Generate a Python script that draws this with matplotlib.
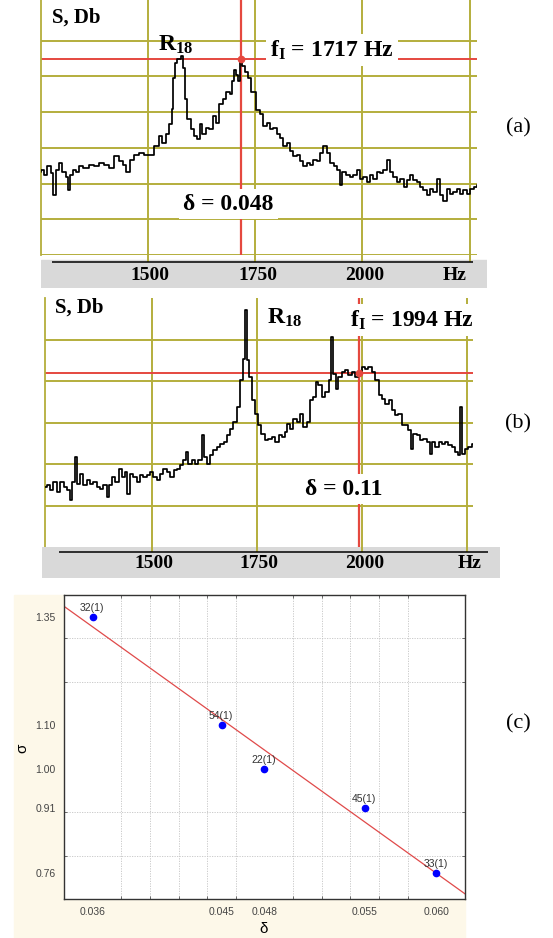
import numpy as np
import matplotlib
matplotlib.use("Agg")
import matplotlib.pyplot as plt
from matplotlib.patches import Rectangle

plt.rcParams['font.family'] = ['Liberation Serif', 'DejaVu Serif']
plt.rcParams['mathtext.fontset'] = 'custom'
plt.rcParams['mathtext.rm'] = 'Liberation Serif'
plt.rcParams['mathtext.bf'] = 'Liberation Serif:bold'

W, H = 553, 938
OLIVE = '#b4ae3c'
RED = '#e5483f'
GRAY = '#d9d9d9'
BEIGE = '#fdf8e9'

# ---- (a) spectrum, delta = 0.048 (level in grid units) ----
freq_a = [1250, 1255, 1263, 1271, 1278, 1282, 1290, 1298, 1306, 1314,
          1316, 1322, 1330, 1337, 1345, 1357, 1369, 1381, 1392, 1404,
          1416, 1428, 1440, 1447, 1455, 1463, 1475, 1487, 1499, 1510,
          1522, 1530, 1538, 1546, 1554, 1559, 1561, 1565, 1573, 1581,
          1585, 1589, 1597, 1605, 1612, 1620, 1624, 1632, 1640, 1648,
          1656, 1664, 1671, 1679, 1687, 1695, 1699, 1703, 1709, 1713,
          1717, 1723, 1730, 1738, 1746, 1758, 1766, 1774, 1781, 1789,
          1797, 1805, 1812, 1820, 1828, 1836, 1843, 1851, 1859, 1867,
          1874, 1882, 1890, 1898, 1905, 1913, 1921, 1929, 1937, 1944,
          1951, 1956, 1968, 1975, 1983, 1991, 1999, 2006, 2014, 2022,
          2030, 2037, 2045, 2053, 2061, 2069, 2076, 2084, 2092, 2100,
          2107, 2115, 2123, 2131, 2138, 2146, 2154, 2162, 2169, 2177,
          2185, 2193, 2200, 2208, 2216, 2224, 2232, 2239, 2247, 2255,
          2263, 2270]
level_a = [2.33, 2.38, 2.24, 2.48, 2.29, 1.67, 2.38, 2.57, 2.33, 2.19,
           1.81, 2.24, 2.38, 2.33, 2.48, 2.43, 2.52, 2.48, 2.57, 2.52,
           2.43, 2.76, 2.62, 2.52, 2.33, 2.67, 2.81, 2.86, 2.81, 2.81,
           3.05, 3.33, 3.14, 3.38, 3.67, 4.10, 4.95, 5.38, 5.48, 5.57,
           5.24, 4.38, 3.81, 3.52, 3.33, 3.24, 3.67, 3.38, 3.57, 3.52,
           3.90, 3.71, 4.24, 4.38, 4.57, 4.52, 4.86, 5.19, 5.05, 4.86,
           5.48, 5.30, 5.14, 4.95, 4.57, 4.05, 3.95, 3.62, 3.71, 3.52,
           3.57, 3.38, 3.29, 3.05, 3.14, 2.90, 2.76, 2.81, 2.62, 2.48,
           2.57, 2.52, 2.67, 2.62, 2.86, 3.05, 2.86, 2.57, 2.48, 2.38,
           1.95, 2.33, 2.24, 2.19, 2.24, 2.38, 2.14, 2.19, 2.05, 2.24,
           2.14, 2.33, 2.29, 2.38, 2.67, 2.33, 2.19, 2.05, 2.14, 1.90,
           2.10, 2.24, 2.10, 2.05, 1.90, 1.81, 1.67, 1.86, 1.76, 2.14,
           1.67, 1.52, 1.86, 1.71, 1.76, 1.86, 1.71, 1.81, 1.71, 1.86,
           1.90, 1.95]

# ---- (b) spectrum, delta = 0.11 ----
freq_b = [1246, 1254, 1262, 1270, 1278, 1286, 1294, 1301, 1309, 1313,
          1320, 1325, 1333, 1341, 1349, 1357, 1365, 1373, 1381, 1389,
          1397, 1401, 1409, 1417, 1425, 1433, 1440, 1444, 1452, 1460,
          1468, 1476, 1484, 1492, 1500, 1508, 1516, 1524, 1532, 1540,
          1548, 1556, 1564, 1571, 1579, 1583, 1591, 1599, 1607, 1615,
          1623, 1627, 1635, 1643, 1651, 1659, 1667, 1675, 1683, 1691,
          1698, 1706, 1714, 1720, 1725, 1730, 1734, 1742, 1750, 1756,
          1766, 1774, 1782, 1790, 1798, 1806, 1813, 1821, 1825, 1833,
          1841, 1849, 1857, 1865, 1873, 1881, 1889, 1893, 1901, 1909,
          1917, 1925, 1930, 1935, 1941, 1948, 1956, 1964, 1972, 1980,
          1988, 1996, 2004, 2012, 2020, 2028, 2036, 2044, 2052, 2060,
          2068, 2076, 2083, 2091, 2099, 2107, 2115, 2119, 2127, 2135,
          2143, 2151, 2159, 2164, 2171, 2179, 2187, 2195, 2203, 2210,
          2218, 2226, 2232, 2237, 2242, 2250, 2258, 2266]
level_b = [1.46, 1.50, 1.38, 1.58, 1.34, 1.58, 1.46, 1.38, 1.14, 1.58,
           2.18, 1.54, 1.78, 1.50, 1.62, 1.54, 1.58, 1.46, 1.42, 1.50,
           1.22, 1.50, 1.70, 1.58, 1.90, 1.70, 1.82, 1.30, 1.78, 1.70,
           1.58, 1.74, 1.70, 1.74, 1.82, 1.70, 1.62, 1.78, 1.90, 1.82,
           1.70, 1.86, 1.90, 1.98, 2.10, 2.30, 2.02, 2.10, 2.02, 2.10,
           2.70, 2.18, 2.02, 2.22, 2.34, 2.42, 2.50, 2.54, 2.70, 2.86,
           3.02, 3.38, 4.02, 4.54, 5.70, 4.50, 4.10, 3.54, 3.22, 2.94,
           2.74, 2.58, 2.62, 2.66, 2.54, 2.70, 2.66, 2.78, 2.98, 2.86,
           3.10, 3.02, 3.22, 2.90, 3.02, 3.54, 3.62, 3.98, 3.90, 3.62,
           3.74, 4.02, 5.06, 4.18, 3.82, 4.10, 4.22, 4.26, 4.14, 4.22,
           4.10, 4.22, 4.34, 4.30, 4.34, 4.22, 4.02, 3.66, 3.58, 3.46,
           3.54, 3.30, 3.18, 3.22, 2.94, 2.94, 2.82, 2.38, 2.74, 2.70,
           2.58, 2.62, 2.54, 2.26, 2.54, 2.42, 2.54, 2.50, 2.54, 2.46,
           2.42, 2.30, 2.22, 3.38, 2.26, 2.38, 2.42, 2.50]

f_res_a, lev_res_a, delta_a = 1717, 5.48, '0.048'
f_res_b, lev_res_b, delta_b = 1994, 4.20, '0.11'
hz_ticks = [1500, 1750, 2000]
grid_hz = [1500, 1750, 2000, 2250]

# ---- (c) sigma vs delta ----
delta_c = [0.036, 0.045, 0.048, 0.055, 0.060]
sigma_c = [1.35, 1.10, 1.00, 0.91, 0.76]
point_labels = ['32(1)', '54(1)', '22(1)', '45(1)', '33(1)']
x_ticks_c = [0.036, 0.045, 0.048, 0.055, 0.060]
y_ticks_c = [0.76, 0.91, 1.00, 1.10, 1.35]

fig = plt.figure(figsize=(W / 100, H / 100), dpi=100)


def fig_rect(x0, y0, x1, y1):
    return [x0 / W, 1 - y1 / H, (x1 - x0) / W, (y1 - y0) / H]


def ftext(px, py, s, **kw):
    return fig.text(px / W, 1 - py / H, s, **kw)


def hz_at(px, p1500, p2000):
    return 1500 + (px - p1500) * 500.0 / (p2000 - p1500)


def draw_spectrum(freq, level, f_res, lev_res, geo):
    x0, y0, x1, y1 = geo['plot']
    ax = fig.add_axes(fig_rect(x0, y0, x1, y1))
    ax.set_xlim(hz_at(x0, *geo['cal']), hz_at(x1, *geo['cal']))
    ax.set_ylim(0, geo['ytop'])
    ax.set_xticks(grid_hz)
    ax.set_yticks(geo['ygrid'])
    ax.grid(True, color=OLIVE, lw=1.4, zorder=0)
    ax.set_axisbelow(True)
    ax.tick_params(length=0, labelbottom=False, labelleft=False)
    for s in ['top', 'right', 'bottom']:
        ax.spines[s].set_visible(False)
    ax.spines['left'].set_color(OLIVE)
    ax.spines['left'].set_linewidth(1.3)
    ax.axhline(lev_res, color=RED, lw=1.4, zorder=1)
    ax.axvline(f_res, color=RED, lw=1.6, zorder=1)
    ax.plot(freq, level, drawstyle='steps-mid', color='black', lw=1.25, zorder=3)
    ax.plot(f_res, lev_res, 'o', color=RED, ms=4.5, zorder=4)

    # grey strip with the frequency axis
    bx0, by0, bx1, by1 = geo['band']
    bx = fig.add_axes(fig_rect(bx0, by0, bx1, by1))
    bx.set_xlim(hz_at(bx0, *geo['cal']), hz_at(bx1, *geo['cal']))
    bx.set_ylim(by1 - by0, 0)
    bx.axis('off')
    lo, hi = bx.get_xlim()
    bx.add_patch(Rectangle((lo, geo['gray_top']), hi - lo, by1 - by0, color=GRAY, zorder=0))
    bx.vlines(grid_hz, 0, geo['line_y'], color=OLIVE, lw=1.4, zorder=1)
    bx.hlines(geo['line_y'], hz_at(geo['line_x'][0], *geo['cal']),
              hz_at(geo['line_x'][1], *geo['cal']), color='black', lw=1.1, zorder=2)
    for t in hz_ticks:
        bx.text(t + 6, geo['lab_y'], str(t), ha='center', va='center',
                fontsize=14, fontweight='bold')
    bx.text(hz_at(geo['hz_x'], *geo['cal']), geo['lab_y'], 'Hz', ha='center',
            va='center', fontsize=14, fontweight='bold')
    return ax


geo_a = dict(plot=(41, 0, 477, 255), cal=(147.5, 362.3), ytop=255 / 35.7,
             ygrid=range(0, 7), band=(41, 255, 487, 288), gray_top=5,
             line_y=7.5, line_x=(52, 473), lab_y=20, hz_x=455)
geo_b = dict(plot=(45, 298, 473, 547.6), cal=(151.7, 361.7), ytop=6,
             ygrid=range(1, 6), band=(42, 547, 500, 578), gray_top=0,
             line_y=4.5, line_x=(59, 488), lab_y=16, hz_x=470)

draw_spectrum(freq_a, level_a, f_res_a, lev_res_a, geo_a)
draw_spectrum(freq_b, level_b, f_res_b, lev_res_b, geo_b)

box = dict(facecolor='white', edgecolor='none', pad=3)
bold = dict(fontweight='bold', va='center', ha='left')

ftext(52, 18, 'S, Db', fontsize=15, **bold)
ftext(158, 45, r'$\mathbf{R_{18}}$', fontsize=17, **bold)
ftext(270, 50, r'$\mathbf{f_I}$ = %d Hz' % f_res_a, fontsize=17, bbox=box, **bold)
ftext(183, 204, '\u03b4 = ' + delta_a, fontsize=17, bbox=box, **bold)

ftext(55, 308, 'S, Db', fontsize=15, **bold)
ftext(267, 318, r'$\mathbf{R_{18}}$', fontsize=17, **bold)
ftext(350, 320, r'$\mathbf{f_I}$ = %d Hz' % f_res_b, fontsize=17, bbox=box, **bold)
ftext(305, 489, '\u03b4 = ' + delta_b, fontsize=17, bbox=box, **bold)

for lab, py in [('(a)', 128), ('(b)', 424), ('(c)', 724)]:
    ftext(518, py, lab, fontsize=16, ha='center', va='center')

# ---- panel (c) ----
fig.add_artist(Rectangle((14 / W, 0), (465 - 14) / W, 1 - 595 / H,
                         transform=fig.transFigure, color=BEIGE, zorder=-5))
axc = fig.add_axes(fig_rect(64, 595, 465, 899))
axc.set_facecolor('white')
axc.set_xlim(0.034, 0.062)
axc.set_ylim(0.70, 1.40)
axc.set_xticks(x_ticks_c)
axc.set_xticklabels(['%.3f' % v for v in x_ticks_c])
axc.set_yticks(y_ticks_c)
axc.set_yticklabels(['%.2f' % v for v in y_ticks_c])
axc.set_xticks(np.arange(0.034, 0.0621, 0.002), minor=True)
axc.set_yticks(np.arange(0.70, 1.401, 0.10), minor=True)
axc.grid(True, which='minor', color='#c4c4c4', lw=0.6, ls=(0, (1.5, 1.5)))
axc.tick_params(which='major', length=0, pad=6, labelsize=7.5, labelcolor='#444444')
axc.tick_params(which='minor', direction='in', length=2.5, color='#555555',
                top=True, right=True)
for s in axc.spines.values():
    s.set_color('#333333')
    s.set_linewidth(1.0)
for lab in axc.get_xticklabels() + axc.get_yticklabels():
    lab.set_family('Liberation Sans')

slope, icpt = np.polyfit(delta_c, sigma_c, 1)
xs = np.array(axc.get_xlim())
axc.plot(xs, slope * xs + icpt, color='#e04a4a', lw=0.9, zorder=2)
axc.plot(delta_c, sigma_c, 'o', color='#0000ff', ms=4.5, zorder=3)
for x, y, lab in zip(delta_c, sigma_c, point_labels):
    axc.annotate(lab, (x, y), xytext=(-1, 9), textcoords='offset pixels',
                 ha='center', va='center', fontsize=7.5, color='#333333',
                 family='Liberation Sans')

ftext(22, 748, '\u03c3', fontsize=11, rotation=90, ha='center', va='center',
      family='Liberation Sans')
ftext(264, 929, '\u03b4', fontsize=11, ha='center', va='center',
      family='Liberation Sans')

fig.savefig('out.png', dpi=100)
